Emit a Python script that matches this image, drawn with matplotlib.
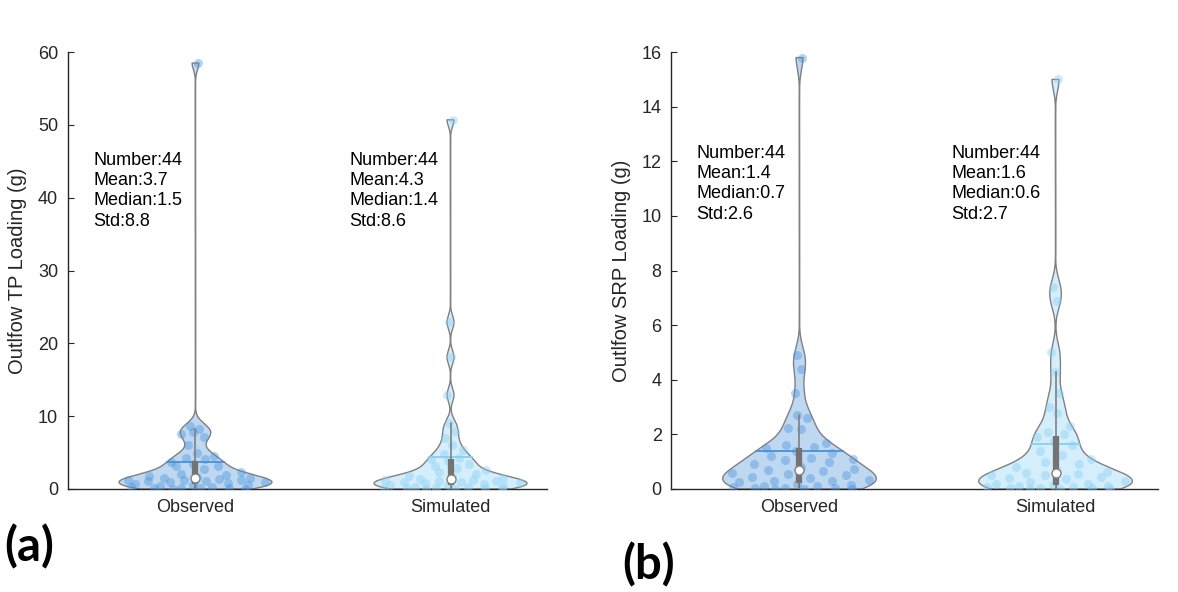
import numpy as np
import matplotlib
matplotlib.use('Agg')
import matplotlib.pyplot as plt

plt.rcParams['font.family'] = ['Liberation Sans', 'DejaVu Sans']

# categories
groups = ['Observed', 'Simulated']

tp_observed = [0.0, 0.05, 0.1, 0.1, 0.15, 0.2, 0.25, 0.3, 0.4, 0.5, 0.6,
               0.75, 0.8, 0.9, 1.0, 1.05, 1.1, 1.2, 1.25, 1.3, 1.4, 1.45,
               1.55, 1.6, 1.75, 1.9, 2.1, 2.4, 2.8, 3.1, 3.2, 3.4, 3.7,
               4.1, 4.2, 4.5, 5.0, 6.1, 7.2, 7.8, 7.5, 8.3, 8.6, 58.5]
tp_simulated = [0.0, 0.02, 0.05, 0.08, 0.1, 0.15, 0.2, 0.25, 0.3, 0.4, 0.5,
                0.6, 0.7, 0.8, 0.85, 0.9, 1.0, 1.1, 1.15, 1.2, 1.3, 1.35,
                1.45, 1.6, 1.8, 2.0, 2.3, 2.6, 2.9, 3.2, 3.5, 3.8, 4.1,
                4.3, 4.8, 5.4, 6.0, 7.0, 8.0, 9.0, 12.9, 18.1, 22.9, 50.7]

# (b) outflow SRP loading (g)
srp_observed = [0.0, 0.0, 0.0, 0.02, 0.03, 0.05, 0.08, 0.1, 0.12, 0.15, 0.2,
                0.25, 0.28, 0.3, 0.32, 0.4, 0.45, 0.5, 0.55, 0.6, 0.65, 0.68,
                0.72, 0.8, 0.9, 1.0, 1.05, 1.1, 1.15, 1.2, 1.3, 1.4, 1.5,
                1.55, 1.6, 1.7, 2.2, 2.25, 2.6, 2.7, 3.5, 4.4, 4.9, 15.8]
srp_simulated = [0.0, 0.0, 0.01, 0.02, 0.03, 0.05, 0.06, 0.08, 0.1, 0.12, 0.14,
                 0.17, 0.2, 0.25, 0.3, 0.35, 0.4, 0.45, 0.5, 0.52, 0.55, 0.58,
                 0.62, 0.7, 0.8, 0.9, 1.0, 1.1, 1.25, 1.4, 1.6, 1.75, 1.9,
                 2.0, 2.1, 2.3, 2.8, 3.0, 3.5, 4.3, 5.0, 6.9, 7.4, 15.0]

# summary statistics printed on the chart
tp_number = [44, 44]
tp_mean = [3.7, 4.3]
tp_median = [1.5, 1.4]
tp_std = [8.8, 8.6]
srp_number = [44, 44]
srp_mean = [1.4, 1.6]
srp_median = [0.7, 0.6]
srp_std = [2.6, 2.7]

violin_colors = [(0.28, 0.57, 0.86), (0.52, 0.81, 0.96)]
axis_color = (0.15, 0.15, 0.15)
HALF_WIDTH = 0.3


def kde_outline(vals, n_grid=500):
    # matlab ksdensity style bandwidth, clipped to the data range
    d = np.asarray(vals, dtype=float)
    sig = np.median(np.abs(d - np.median(d))) / 0.6745
    bw = sig * (4 / (3 * len(d))) ** 0.2
    y = np.linspace(d.min(), d.max(), n_grid)
    dens = np.exp(-0.5 * ((y[:, None] - d[None, :]) / bw) ** 2).sum(axis=1)
    return y, dens / dens.max() * HALF_WIDTH


def draw_violin(ax, pos, vals, color):
    d = np.asarray(vals, dtype=float)
    y, w = kde_outline(d)
    ax.fill_betweenx(y, pos - w, pos + w, facecolor=color, alpha=0.35,
                     edgecolor='none', zorder=1)
    ax.plot(np.r_[pos - w, (pos + w)[::-1], pos - w[0]],
            np.r_[y, y[::-1], y[0]], color='0.5', lw=1, zorder=2)
    # spread the points sideways inside the violin (fixed golden-ratio pattern)
    u = 2 * ((np.arange(len(d)) * 0.618034 + 0.3) % 1) - 1
    half = np.interp(d, y, w)
    ax.scatter(pos + u * half, d, s=42, color=color, alpha=0.4, lw=0, zorder=3)
    # mean line
    m = d.mean()
    mw = np.interp(m, y, w)
    ax.plot([pos - mw, pos + mw], [m, m], color=color, lw=1.3, zorder=4)
    # box, whiskers, median
    q1, med, q3 = np.percentile(d, [25, 50, 75])
    iqr = q3 - q1
    lo = d[d >= q1 - 1.5 * iqr].min()
    hi = d[d <= q3 + 1.5 * iqr].max()
    ax.plot([pos, pos], [lo, hi], color='0.5', lw=1.2, zorder=5)
    ax.plot([pos, pos], [q1, q3], color='0.45', lw=4.5,
            solid_capstyle='butt', zorder=5)
    ax.plot(pos, med, 'o', ms=6.5, mfc='white', mec='0.5', mew=1, zorder=6)


def style_axes(ax, ymax, ystep, ylabel):
    ax.set_ylim(0, ymax)
    ax.set_yticks(np.arange(0, ymax + ystep / 2, ystep))
    ax.set_xticks([1, 2])
    ax.set_xticklabels(groups)
    for s in ['top', 'right']:
        ax.spines[s].set_visible(False)
    for s in ['left', 'bottom']:
        ax.spines[s].set_color(axis_color)
        ax.spines[s].set_linewidth(1.0)
    ax.tick_params(direction='in', length=4, width=0.8, colors=axis_color,
                   labelsize=13, pad=7)
    ax.set_ylabel(ylabel, fontsize=14.5, color=axis_color, labelpad=8)


def stats_text(n, mean, median, std):
    return 'Number:%d\nMean:%.1f\nMedian:%.1f\nStd:%.1f' % (n, mean, median, std)


fig = plt.figure(figsize=(11.78, 5.92), dpi=100)

# panel (a)
ax1 = fig.add_axes([0.0577, 0.174, 0.407, 0.738])
ax1.set_xlim(0.5, 2.38)
for i, (vals, c) in enumerate(zip([tp_observed, tp_simulated], violin_colors)):
    draw_violin(ax1, i + 1, vals, c)
style_axes(ax1, 60, 10, 'Outlfow TP Loading (g)')
for i, x in enumerate([0.6, 1.604]):
    ax1.text(x, 46.3, stats_text(tp_number[i], tp_mean[i], tp_median[i], tp_std[i]),
             va='top', ha='left', fontsize=13, linespacing=1.25, color='black')

# panel (b)
ax2 = fig.add_axes([0.570, 0.174, 0.413, 0.738])
ax2.set_xlim(0.5, 2.4)
for i, (vals, c) in enumerate(zip([srp_observed, srp_simulated], violin_colors)):
    draw_violin(ax2, i + 1, vals, c)
style_axes(ax2, 16, 2, 'Outlfow SRP Loading (g)')
for i, x in enumerate([0.596, 1.592]):
    ax2.text(x, 12.6, stats_text(srp_number[i], srp_mean[i], srp_median[i], srp_std[i]),
             va='top', ha='left', fontsize=13, linespacing=1.25, color='black')

# panel letters
fig.text(0.004, 0.076, '(a)', fontsize=34, fontweight='bold', va='center',
         family=['Lato', 'DejaVu Sans'])
fig.text(0.528, 0.046, '(b)', fontsize=34, fontweight='bold', va='center',
         family=['Lato', 'DejaVu Sans'])

fig.savefig('out.png', dpi=100)
